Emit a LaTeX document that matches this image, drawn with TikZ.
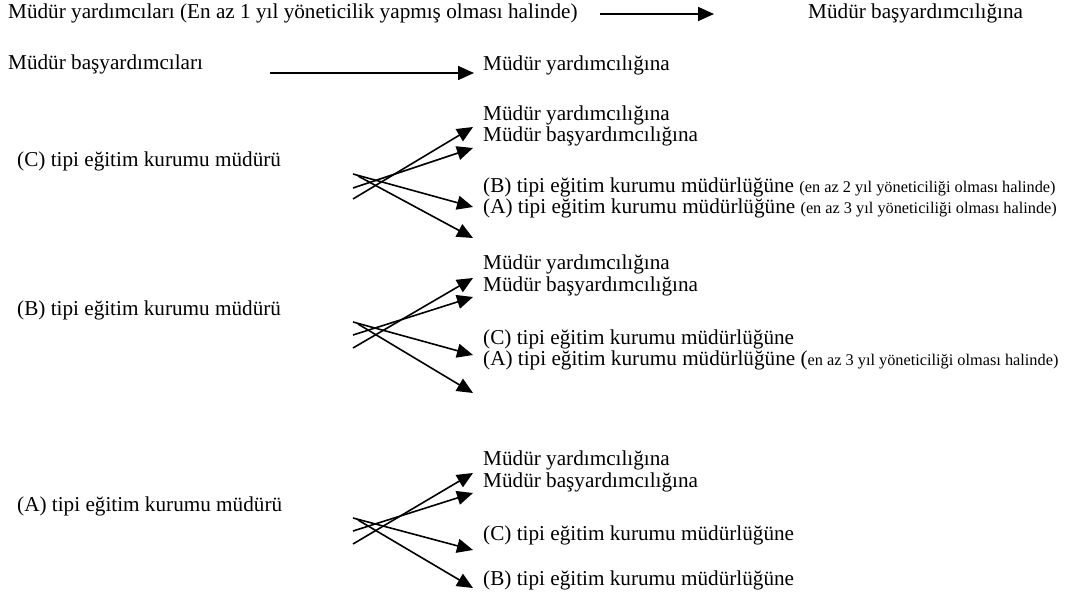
\documentclass[tikz,border=0pt]{standalone}
\usepackage{fontspec}
\setmainfont{Liberation Serif}
\usetikzlibrary{arrows.meta,positioning}
\tikzstyle{metin} = [anchor=west, inner sep=0pt, font=\fontsize{21.2}{25}\selectfont]
\tikzstyle{arrow} = [line width=1.6pt, -{Triangle[length=16pt,width=14pt]}]
\newcommand{\kucuk}[1]{{\fontsize{16.3}{19}\selectfont #1}}
\begin{document}
\begin{tikzpicture}[x=1pt,y=-1pt]
\useasboundingbox (0,0) rectangle (1066,599);
% ust iki satir
\node (myrd) [metin] at (8,13) {Müdür yardımcıları (En az 1 yıl yöneticilik yapmış olması halinde)};
\node (mbas1) [metin] at (808,13) {Müdür başyardımcılığına};
\coordinate (o1) at (600,14);
\coordinate (o2) at (714,14);
\draw [arrow] (o1) -- (o2);
\node (mbas) [metin] at (8,64) {Müdür başyardımcıları};
\node (myrd1) [metin] at (483,65) {Müdür yardımcılığına};
\coordinate (o3) at (270,73);
\coordinate (o4) at (474,73);
\draw [arrow] (o3) -- (o4);
% (C) tipi
\node (cmud) [metin] at (17,161) {(C) tipi eğitim kurumu müdürü};
\node (c1) [metin] at (483,115) {Müdür yardımcılığına};
\node (c2) [metin] at (483,136) {Müdür başyardımcılığına};
\node (c3) [metin] at (483,187) {(B) tipi eğitim kurumu müdürlüğüne \kucuk{(en az 2 yıl yöneticiliği olması halinde)}};
\node (c4) [metin] at (483,208) {(A) tipi eğitim kurumu müdürlüğüne \kucuk{(en az 3 yıl yöneticiliği olması halinde)}};
\coordinate (cs1) at (353,199);
\coordinate (cs2) at (353,188);
\coordinate (cs3) at (353,174);
\coordinate (cs4) at (358,176);
\coordinate (ct1) at (473,127);
\coordinate (ct2) at (473,148);
\coordinate (ct3) at (473,207);
\coordinate (ct4) at (473,238);
\draw [arrow] (cs1) -- (ct1);
\draw [arrow] (cs2) -- (ct2);
\draw [arrow] (cs3) -- (ct3);
\draw [arrow] (cs4) -- (ct4);
% (B) tipi
\node (bmud) [metin] at (17,310) {(B) tipi eğitim kurumu müdürü};
\node (b1) [metin] at (483,264) {Müdür yardımcılığına};
\node (b2) [metin] at (483,286) {Müdür başyardımcılığına};
\node (b3) [metin] at (483,339) {(C) tipi eğitim kurumu müdürlüğüne};
\node (b4) [metin] at (483,360) {(A) tipi eğitim kurumu müdürlüğüne (\kucuk{en az 3 yıl yöneticiliği olması halinde)}};
\coordinate (bs1) at (353,348);
\coordinate (bs2) at (353,335);
\coordinate (bs3) at (353,322);
\coordinate (bs4) at (358,324);
\coordinate (bt1) at (473,278);
\coordinate (bt2) at (473,297);
\coordinate (bt3) at (473,355);
\coordinate (bt4) at (473,393);
\draw [arrow] (bs1) -- (bt1);
\draw [arrow] (bs2) -- (bt2);
\draw [arrow] (bs3) -- (bt3);
\draw [arrow] (bs4) -- (bt4);
% (A) tipi
\node (amud) [metin] at (17,506) {(A) tipi eğitim kurumu müdürü};
\node (a1) [metin] at (483,460) {Müdür yardımcılığına};
\node (a2) [metin] at (483,482) {Müdür başyardımcılığına};
\node (a3) [metin] at (483,535) {(C) tipi eğitim kurumu müdürlüğüne};
\node (a4) [metin] at (483,580) {(B) tipi eğitim kurumu müdürlüğüne};
\coordinate (as1) at (353,544);
\coordinate (as2) at (353,531);
\coordinate (as3) at (353,518);
\coordinate (as4) at (358,520);
\coordinate (at1) at (473,473);
\coordinate (at2) at (473,493);
\coordinate (at3) at (473,550);
\coordinate (at4) at (473,588);
\draw [arrow] (as1) -- (at1);
\draw [arrow] (as2) -- (at2);
\draw [arrow] (as3) -- (at3);
\draw [arrow] (as4) -- (at4);
\end{tikzpicture}
\end{document}
